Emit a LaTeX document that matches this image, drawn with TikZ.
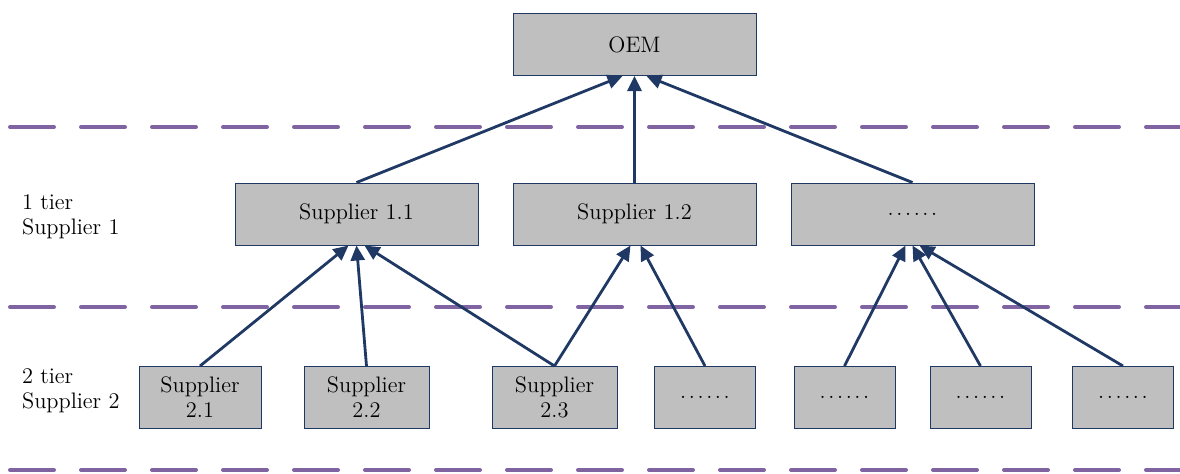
\documentclass[tikz,border=0pt]{standalone}
\usetikzlibrary{arrows.meta}
\definecolor{navy}{RGB}{31,56,100}
\definecolor{boxgray}{RGB}{191,191,191}
\definecolor{lilac}{RGB}{128,100,162}
\def\moredots{.\kern1.3pt.\kern1.3pt.\kern1.3pt.\kern1.3pt.\kern1.3pt.}
\tikzset{
  box/.style={draw=navy, line width=0.5pt, fill=boxgray, minimum height=31pt,
    inner sep=1pt, align=center, font=\fontsize{11.2}{12.5}\selectfont},
  link/.style={draw=navy, line width=1.4pt, -{Triangle[length=7.5pt,width=7pt]}},
  tierline/.style={draw=lilac, line width=2pt, line cap=round, dash pattern=on 22pt off 13.5pt},
  tiertext/.style={anchor=west, align=left, font=\fontsize{11.2}{12.5}\selectfont},
}

\begin{document}
\begin{tikzpicture}[x=0.5pt,y=-0.5pt]
  \useasboundingbox (0,0) rectangle (1180,473);
  \clip (0,0) rectangle (1180,473);

  \draw[tierline] (10,127) -- (1190,127);
  \draw[tierline] (10,307) -- (1190,307);
  \draw[tierline] (10,470) -- (1190,470);

  \node[box, minimum width=121.5pt] (oem) at (634.5,44.5) {OEM};

  \node[box, minimum width=121.5pt] (s11) at (356.5,214) {Supplier 1.1};
  \node[box, minimum width=121.5pt] (s12) at (634.5,214) {Supplier 1.2};
  \node[box, minimum width=121.5pt] (s1x) at (912.5,214) {\moredots};

  \node[box, minimum width=61pt] (s21) at (200,397.5) {Supplier\\2.1};
  \node[box, minimum width=62.5pt] (s22) at (366.5,397.5) {Supplier\\2.2};
  \node[box, minimum width=62.5pt] (s23) at (554.5,397.5) {Supplier\\2.3};
  \node[box, minimum width=50.5pt] (d1) at (705,397.5) {\moredots};
  \node[box, minimum width=50.5pt] (d2) at (844.5,397.5) {\moredots};
  \node[box, minimum width=50.5pt] (d3) at (980.5,397.5) {\moredots};
  \node[box, minimum width=50.5pt] (d4) at (1123,397.5) {\moredots};

  \node[tiertext] (t1) at (15,217) {1 tier\\Supplier 1};
  \node[tiertext] (t2) at (15,391) {2 tier\\Supplier 2};

  % tier 1 -> OEM
  \draw[link] (s11.north) -- ([xshift=-6pt]oem.south);
  \draw[link] (s12.north) -- (oem.south);
  \draw[link] (s1x.north) -- ([xshift=6pt]oem.south);

  % tier 2 -> tier 1
  \draw[link] (s21.north) -- ([xshift=-4pt]s11.south);
  \draw[link] (s22.north) -- (s11.south);
  \draw[link] (s23.north) -- ([xshift=4pt]s11.south);
  \draw[link] (s23.north) -- ([xshift=-2pt]s12.south);
  \draw[link] (d1.north) -- ([xshift=3pt]s12.south);
  \draw[link] (d2.north) -- ([xshift=-3.5pt]s1x.south);
  \draw[link] (d3.north) -- (s1x.south);
  \draw[link] (d4.north) -- ([xshift=3.5pt]s1x.south);
\end{tikzpicture}
\end{document}
